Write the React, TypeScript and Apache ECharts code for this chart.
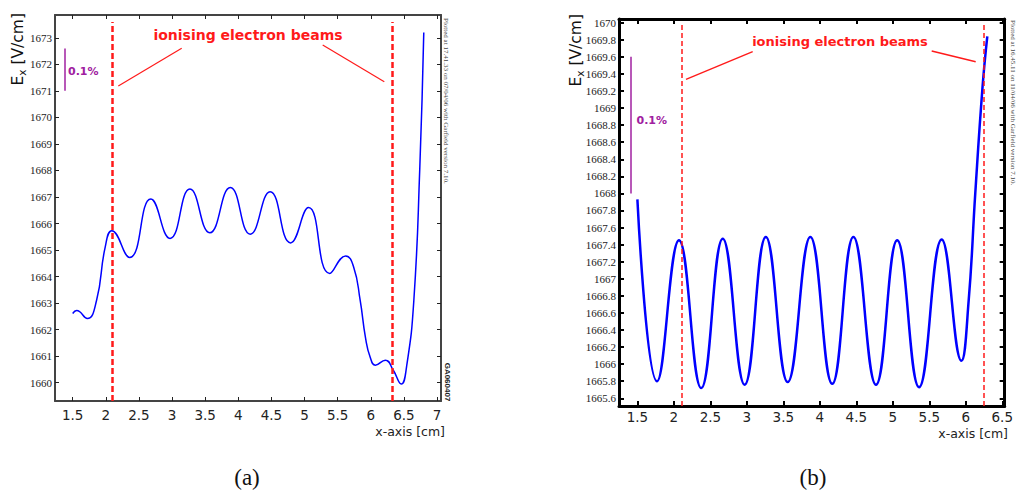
import React, { useEffect, useRef } from "react";
import * as echarts from "echarts";

// ---------- Panel (a) data ----------
const aXValues = [1.5, 1.56, 1.72, 1.86, 1.99, 2.09, 2.36, 2.68, 2.97, 3.27, 3.57, 3.88, 4.18, 4.48, 4.79, 5.06, 5.38, 5.62, 5.74, 5.84, 5.92, 5.99, 6.07, 6.22, 6.34, 6.46, 6.54, 6.65, 6.74, 6.8];
const aYValues = [1662.61, 1662.72, 1662.42, 1663.1, 1665.1, 1665.73, 1664.72, 1666.92, 1665.44, 1667.3, 1665.65, 1667.36, 1665.6, 1667.2, 1665.27, 1666.6, 1664.12, 1664.78, 1664.37, 1663.1, 1661.7, 1660.97, 1660.66, 1660.85, 1660.47, 1659.95, 1660.6, 1663.1, 1668.1, 1673.2];
const aXTicks = [1.5, 2, 2.5, 3, 3.5, 4, 4.5, 5, 5.5, 6, 6.5, 7];
const aYTicks = [1660, 1661, 1662, 1663, 1664, 1665, 1666, 1667, 1668, 1669, 1670, 1671, 1672, 1673];
const aBeams = [2.09, 6.32];
const aScaleBar = [1671, 1672.6];

// ---------- Panel (b) data ----------
const bXValues = [1.5, 1.77, 2.07, 2.375, 2.67, 2.97, 3.26, 3.56, 3.87, 4.17, 4.46, 4.77, 5.06, 5.36, 5.67, 5.94, 6.04, 6.13, 6.23, 6.295];
const bYValues = [1667.93, 1665.8, 1667.45, 1665.72, 1667.47, 1665.76, 1667.49, 1665.79, 1667.49, 1665.77, 1667.49, 1665.76, 1667.45, 1665.73, 1667.46, 1666.04, 1666.75, 1668.0, 1669.25, 1669.84];
const bXTicks = [1.5, 2, 2.5, 3, 3.5, 4, 4.5, 5, 5.5, 6, 6.5];
const bYTicks = [1665.6, 1665.8, 1666, 1666.2, 1666.4, 1666.6, 1666.8, 1667, 1667.2, 1667.4, 1667.6, 1667.8, 1668, 1668.2, 1668.4, 1668.6, 1668.8, 1669, 1669.2, 1669.4, 1669.6, 1669.8, 1670];
const bBeams = [2.11, 6.245];
const bScaleBar = [1668, 1669.6];

const RED = "#ff1a1a";
const PURPLE = "#a020a0";
const BLUE = "#0000ff";

const fmt = (v: number) => String(+v.toFixed(4));

function axisX(gridIndex: number, min: number, max: number, ticks: number[], main: boolean, frame: any) {
  return {
    type: "value",
    gridIndex,
    min,
    max,
    position: main ? "bottom" : "top",
    splitLine: { show: false },
    axisLine: { show: true, onZero: false, lineStyle: frame.line },
    axisTick: { show: true, inside: true, length: frame.tickLen, customValues: ticks, lineStyle: frame.tick },
    axisLabel: {
      show: main,
      customValues: ticks,
      margin: frame.xMargin,
      formatter: fmt,
      fontFamily: "DejaVu Sans",
      fontSize: 13.5,
      color: "#222",
    },
  };
}

function axisY(gridIndex: number, min: number, max: number, ticks: number[], main: boolean, frame: any) {
  return {
    type: "value",
    gridIndex,
    min,
    max,
    position: main ? "left" : "right",
    splitLine: { show: false },
    axisLine: { show: true, onZero: false, lineStyle: frame.line },
    axisTick: { show: true, inside: true, length: frame.tickLen, customValues: ticks, lineStyle: frame.tick },
    axisLabel: {
      show: main,
      customValues: ticks,
      margin: 3,
      formatter: fmt,
      fontFamily: "Liberation Serif",
      fontSize: 11,
      color: "#222",
    },
  };
}

export default function App() {
  const ref = useRef<HTMLDivElement>(null);
  useEffect(() => {
    if (!ref.current) return;
    const chart = echarts.init(ref.current, null, { renderer: "svg" });
    const frameA = { line: { color: "#444", width: 2 }, tick: { color: "#222", width: 1 }, tickLen: 4, xMargin: 7 };
    const frameB = { line: { color: "#000", width: 3 }, tick: { color: "#000", width: 2 }, tickLen: 5, xMargin: 4 };

    const aMin = 1659.31, aMax = 1673.86;
    const bMin = 1665.51, bMax = 1670.043;

    const beamLines = (xs: number[], yLo: number, yHi: number) =>
      xs.map((x) => [{ coord: [x, yLo] }, { coord: [x, yHi] }]);

    const option: any = {
      animation: false,
      backgroundColor: "#fff",
      grid: [
        { left: 55, top: 15, width: 386, height: 386 },
        { left: 619, top: 19, width: 387, height: 387 },
      ],
      xAxis: [
        axisX(0, 1.233, 7.06, aXTicks, true, frameA),
        axisX(0, 1.233, 7.06, aXTicks, false, frameA),
        axisX(1, 1.248, 6.533, bXTicks, true, frameB),
        axisX(1, 1.248, 6.533, bXTicks, false, frameB),
      ],
      yAxis: [
        axisY(0, aMin, aMax, aYTicks, true, frameA),
        axisY(0, aMin, aMax, aYTicks, false, frameA),
        axisY(1, bMin, bMax, bYTicks, true, frameB),
        axisY(1, bMin, bMax, bYTicks, false, frameB),
      ],
      series: [
        {
          type: "line",
          xAxisIndex: 0,
          yAxisIndex: 0,
          data: aXValues.map((x, i) => [x, aYValues[i]]),
          smooth: 0.5,
          showSymbol: false,
          lineStyle: { color: BLUE, width: 1.5 },
          markLine: {
            silent: true,
            symbol: "none",
            label: { show: false },
            data: [
              ...beamLines(aBeams, aMin, 1673.6).map((d) => [
                { ...d[0], lineStyle: { color: RED, width: 2.5, type: [6, 3] } },
                d[1],
              ]),
              [
                { coord: [1.384, aScaleBar[0]], lineStyle: { color: PURPLE, width: 1.5, type: "solid" } },
                { coord: [1.384, aScaleBar[1]] },
              ],
            ],
          },
        },
        {
          type: "line",
          xAxisIndex: 2,
          yAxisIndex: 2,
          data: bXValues.map((x, i) => [x, bYValues[i]]),
          smooth: 0.45,
          showSymbol: false,
          lineStyle: { color: BLUE, width: 2.5 },
          markLine: {
            silent: true,
            symbol: "none",
            label: { show: false },
            data: [
              ...beamLines(bBeams, bMin, 1669.985).map((d) => [
                { ...d[0], lineStyle: { color: RED, width: 1.5, type: [5, 3] } },
                d[1],
              ]),
              [
                { coord: [1.408, bScaleBar[0]], lineStyle: { color: PURPLE, width: 1.5, type: "solid" } },
                { coord: [1.408, bScaleBar[1]] },
              ],
            ],
          },
        },
      ],
      graphic: [
        // Panel (a) annotations
        { type: "text", x: 248, y: 35, style: { text: "ionising electron beams", fill: RED, font: "bold 14px 'DejaVu Sans'", align: "center", verticalAlign: "middle" } },
        { type: "line", shape: { x1: 181.7, y1: 48.3, x2: 118.3, y2: 86 }, style: { stroke: RED, lineWidth: 1.2 } },
        { type: "line", shape: { x1: 322.7, y1: 45, x2: 384.3, y2: 81.7 }, style: { stroke: RED, lineWidth: 1.2 } },
        { type: "text", x: 68, y: 71, style: { text: "0.1%", fill: PURPLE, font: "bold 11px 'DejaVu Sans'", align: "left", verticalAlign: "middle" } },
        {
          type: "text", x: 18, y: 13, rotation: Math.PI / 2,
          style: {
            text: "{e|E}{s|x}{e| [V/cm]}", fill: "#111", align: "right", verticalAlign: "middle",
            rich: { e: { fontSize: 15.5, fontFamily: "DejaVu Sans", fill: "#111" }, s: { fontSize: 10.5, fontFamily: "DejaVu Sans", fill: "#111", padding: [8, 0, 0, 0] } },
          },
        },
        { type: "text", x: 445, y: 431, style: { text: "x-axis [cm]", fill: "#222", font: "12.5px 'DejaVu Sans'", align: "right", verticalAlign: "middle" } },
        { type: "text", x: 446, y: 18, rotation: -Math.PI / 2, style: { text: "Plotted at 17.41.33 on 07/04/06 with Garfield version 7.10.", fill: "#444", font: "7px 'Liberation Serif'", align: "left", verticalAlign: "middle" } },
        { type: "text", x: 447, y: 382, rotation: -Math.PI / 2, style: { text: "GA060407", fill: "#222", font: "bold 8px 'Liberation Sans'", align: "center", verticalAlign: "middle" } },
        { type: "text", x: 247, y: 477, style: { text: "(a)", fill: "#111", font: "23px 'Liberation Serif'", align: "center", verticalAlign: "middle" } },

        // Panel (b) annotations
        { type: "text", x: 840, y: 41, style: { text: "ionising electron beams", fill: RED, font: "bold 13px 'DejaVu Sans'", align: "center", verticalAlign: "middle" } },
        { type: "line", shape: { x1: 752.7, y1: 51.7, x2: 686, y2: 79.3 }, style: { stroke: RED, lineWidth: 1.4 } },
        { type: "line", shape: { x1: 931.7, y1: 51, x2: 975.7, y2: 61.7 }, style: { stroke: RED, lineWidth: 1.4 } },
        { type: "text", x: 636.5, y: 120, style: { text: "0.1%", fill: PURPLE, font: "bold 11px 'DejaVu Sans'", align: "left", verticalAlign: "middle" } },
        {
          type: "text", x: 576, y: 14, rotation: Math.PI / 2,
          style: {
            text: "{e|E}{s|x}{e| [V/cm]}", fill: "#111", align: "right", verticalAlign: "middle",
            rich: { e: { fontSize: 15.5, fontFamily: "DejaVu Sans", fill: "#111" }, s: { fontSize: 10.5, fontFamily: "DejaVu Sans", fill: "#111", padding: [8, 0, 0, 0] } },
          },
        },
        { type: "text", x: 1008, y: 433, style: { text: "x-axis [cm]", fill: "#222", font: "12.5px 'DejaVu Sans'", align: "right", verticalAlign: "middle" } },
        { type: "text", x: 1013, y: 20, rotation: -Math.PI / 2, style: { text: "Plotted at 16.45.11 on 11/04/06 with Garfield version 7.10.", fill: "#444", font: "7px 'Liberation Serif'", align: "left", verticalAlign: "middle" } },
        { type: "text", x: 813, y: 477, style: { text: "(b)", fill: "#111", font: "23px 'Liberation Serif'", align: "center", verticalAlign: "middle" } },
      ],
    };
    chart.setOption(option);
    return () => chart.dispose();
  }, []);
  return <div ref={ref} style={{ position: "fixed", left: 0, top: 0, width: 1016, height: 491, background: "#fff" }} />;
}
